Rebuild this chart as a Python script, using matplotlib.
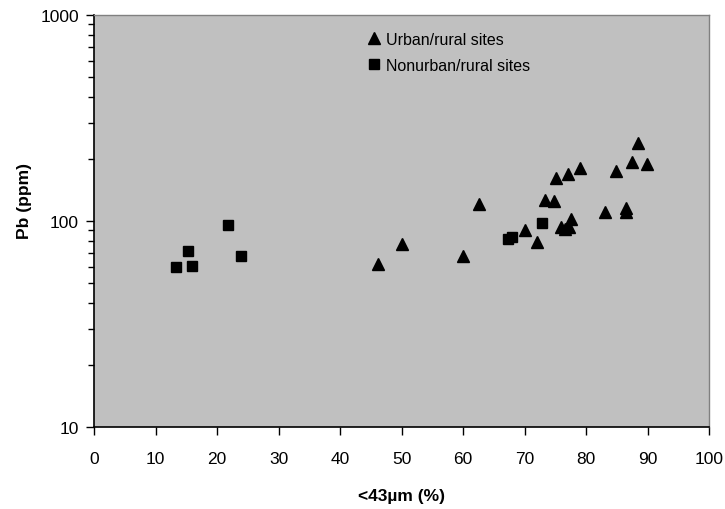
import matplotlib.pyplot as plt
from matplotlib.ticker import FixedLocator, LogLocator, NullFormatter

plt.rcParams["font.family"] = ["Liberation Sans", "DejaVu Sans"]

# Urban/rural sites (triangles)
urban_x = [46.1, 50.1, 60.0, 62.6, 70.0, 72.0, 73.4, 74.8, 75.1, 77.0, 79.0,
           76.0, 76.5, 77.2, 77.5, 83.1, 84.9, 86.5, 86.5, 87.5, 88.5, 89.9]
urban_y = [62, 77, 68, 121, 90, 79, 127, 125, 162, 169, 181,
           94, 91, 93, 102, 110, 175, 116, 110, 194, 238, 190]

# Nonurban/rural sites (squares)
nonurban_x = [13.3, 15.3, 15.9, 21.8, 23.9, 67.3, 67.9, 72.9]
nonurban_y = [60, 71.5, 60.5, 96, 67.6, 82, 83.4, 98]

fig = plt.figure(figsize=(7.25, 5.10), dpi=100)
ax = fig.add_axes([0.1297, 0.1608, 0.8483, 0.8078])
ax.set_facecolor("#c0c0c0")

ax.plot(urban_x, urban_y, linestyle="none", marker="^", markersize=9,
        color="black", label="Urban/rural sites")
ax.plot(nonurban_x, nonurban_y, linestyle="none", marker="s", markersize=7.5,
        color="black", label="Nonurban/rural sites")

ax.set_yscale("log")
ax.set_xlim(0, 100)
ax.set_ylim(10, 1000)
ax.xaxis.set_major_locator(FixedLocator(range(0, 101, 10)))
ax.yaxis.set_major_locator(FixedLocator([10, 100, 1000]))
ax.set_yticklabels(["10", "100", "1000"])
ax.yaxis.set_minor_locator(LogLocator(base=10, subs=range(2, 10)))
ax.yaxis.set_minor_formatter(NullFormatter())

ax.tick_params(axis="both", which="major", direction="out", length=6,
               width=1, labelsize=12.5, color="black")
ax.tick_params(axis="x", pad=11)
ax.tick_params(axis="y", pad=5)
ax.tick_params(axis="y", which="minor", direction="out", length=4, width=1)

for side in ["left", "bottom"]:
    ax.spines[side].set_color("black")
    ax.spines[side].set_linewidth(1.2)
for side in ["top", "right"]:
    ax.spines[side].set_color("#808080")
    ax.spines[side].set_linewidth(1.0)

ax.set_xlabel("<43\u00b5m (%)", fontsize=12.5, fontweight="bold")
ax.set_ylabel("Pb (ppm)", fontsize=12.5, fontweight="bold")
ax.xaxis.set_label_coords(0.5, -0.148)
ax.yaxis.set_label_coords(-0.101, 0.551)

ax.legend(loc="upper left", bbox_to_anchor=(0.43, 0.975), frameon=False,
          fontsize=11.5, handletextpad=0.1, labelspacing=0.7, handlelength=1.2,
          borderaxespad=0)

fig.savefig("out.png", dpi=100)
